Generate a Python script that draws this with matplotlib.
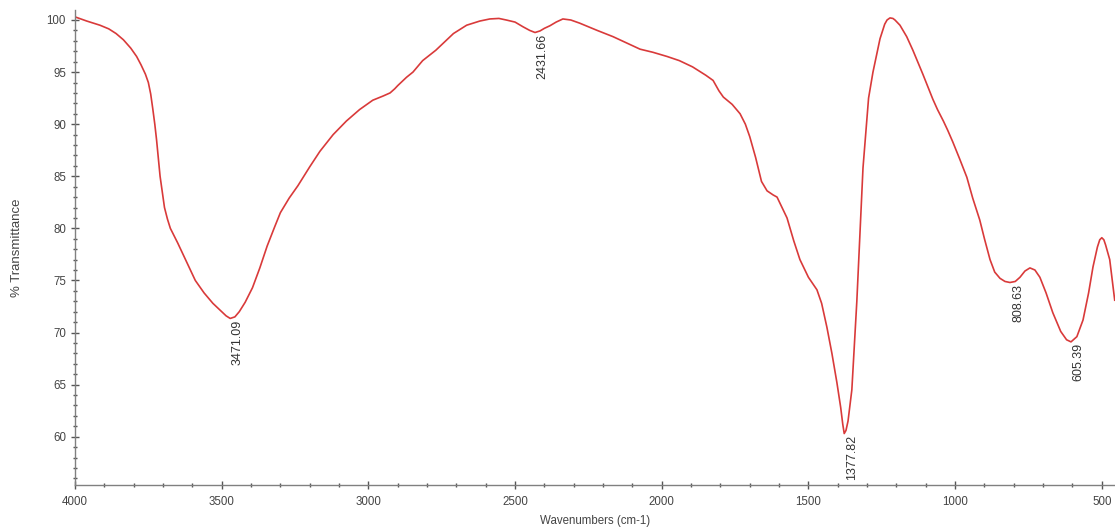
import matplotlib
matplotlib.use("Agg")
import matplotlib.pyplot as plt
from matplotlib.ticker import MultipleLocator

plt.rcParams['font.family'] = ['Liberation Sans', 'DejaVu Sans']

wavenumber = [4000, 3960, 3915, 3885, 3860, 3835, 3810, 3790, 3775, 3760, 3750, 3742,
              3735, 3728, 3722, 3716, 3710, 3702, 3695, 3685, 3675, 3650, 3620, 3590,
              3560, 3530, 3500, 3485, 3471, 3455, 3440, 3420, 3395, 3370, 3345,
              3320, 3300, 3270, 3240, 3200, 3165, 3120, 3075, 3030, 2985, 2950, 2926,
              2910, 2900, 2870, 2848, 2815, 2770, 2740, 2710, 2665, 2620, 2586, 2555, 2530,
              2500, 2473, 2450, 2432, 2415, 2400, 2381, 2360, 2337, 2310, 2280, 2220, 2166,
              2120, 2074, 2030, 1982, 1940, 1895, 1850, 1825, 1805, 1790, 1760, 1733, 1715,
              1700, 1680, 1660, 1641, 1620, 1607, 1590, 1573, 1550, 1529, 1500, 1471, 1455,
              1437, 1420, 1403, 1390, 1383, 1378, 1372, 1365, 1352, 1335, 1314, 1295, 1280,
              1256, 1240, 1232, 1222, 1212, 1205, 1188, 1165, 1144, 1110, 1090, 1076, 1060,
              1040, 1025, 1008, 985, 960, 940, 916, 900, 881, 865, 847, 830, 813, 795,
              779, 762, 745, 728, 711, 690, 667, 640, 620, 605, 585, 564, 545, 530, 515,
              507, 500, 493, 487, 473, 456]

transmittance = [100.3, 99.9, 99.5, 99.15, 98.7, 98.1, 97.3, 96.5, 95.7, 94.8, 94.0, 92.9,
                 91.5, 90.0, 88.5, 86.8, 85.0, 83.4, 82.0, 80.9, 80.0, 78.6, 76.8, 75.0,
                 73.8, 72.8, 72.0, 71.6, 71.35, 71.5, 72.0, 72.9, 74.3, 76.2, 78.3,
                 80.1, 81.5, 82.9, 84.1, 85.9, 87.4, 89.0, 90.3, 91.4, 92.3, 92.7, 93.0,
                 93.4, 93.7, 94.5, 95.0, 96.1, 97.1, 97.9, 98.7, 99.5, 99.9, 100.1, 100.15, 100.0,
                 99.8, 99.35, 99.0, 98.8, 98.95, 99.2, 99.45, 99.8, 100.1, 100.0, 99.7, 99.0, 98.4,
                 97.8, 97.2, 96.9, 96.5, 96.1, 95.5, 94.7, 94.2, 93.2, 92.6, 91.9, 91.0, 90.0,
                 88.8, 86.8, 84.5, 83.6, 83.2, 83.0, 82.0, 81.0, 78.8, 77.0, 75.3, 74.1, 72.8,
                 70.5, 68.0, 65.2, 62.8, 61.2, 60.3, 60.6, 61.5, 64.5, 73.0, 85.8, 92.5, 95.0,
                 98.2, 99.6, 100.0, 100.2, 100.15, 100.0, 99.5, 98.4, 97.1, 94.8, 93.4, 92.4, 91.4,
                 90.3, 89.4, 88.3, 86.7, 84.9, 82.9, 80.8, 79.0, 77.0, 75.8, 75.2, 74.9, 74.8, 74.9,
                 75.3, 75.9, 76.2, 76.0, 75.3, 73.8, 71.9, 70.1, 69.3, 69.1, 69.6, 71.2, 73.8, 76.3, 78.2,
                 78.9, 79.1, 78.9, 78.4, 77.0, 73.1]

peak_positions = [3471.09, 2431.66, 1377.82, 808.63, 605.39]
peak_values = [71.35, 98.8, 60.3, 74.8, 69.1]
peak_labels = ["3471.09", "2431.66", "1377.82", "808.63", "605.39"]

x_ticks = [4000, 3500, 3000, 2500, 2000, 1500, 1000, 500]
y_ticks = [60, 65, 70, 75, 80, 85, 90, 95, 100]

W, H = 1115, 529
fig = plt.figure(figsize=(W / 100, H / 100), dpi=100)
ax = fig.add_axes([75 / W, 1 - 485 / H, 1 - 75 / W, (485 - 10) / H])

ax.plot(wavenumber, transmittance, color='#d93a3a', linewidth=1.2)

ax.set_xlim(4000, 455)
ax.set_ylim(55.36, 100.96)

ax.set_xticks(x_ticks)
ax.set_yticks(y_ticks)
ax.xaxis.set_minor_locator(MultipleLocator(100))
ax.yaxis.set_minor_locator(MultipleLocator(1))

for side in ['top', 'right']:
    ax.spines[side].set_visible(False)
for side in ['left', 'bottom']:
    ax.spines[side].set_color('#808080')
    ax.spines[side].set_linewidth(1.0)

ax.tick_params(axis='both', which='major', direction='inout', length=6, width=1,
               color='#555555', labelsize=8.3, labelcolor='#444444')
ax.tick_params(axis='both', which='minor', direction='inout', length=2.5, width=1,
               color='#555555')
ax.tick_params(axis='x', which='major', pad=5)

ax.set_xlabel('Wavenumbers (cm-1)', fontsize=8.3, color='#444444', labelpad=5)
ax.set_ylabel('% Transmittance', fontsize=9.5, color='#444444', labelpad=17)

for px, py, lab in zip(peak_positions, peak_values, peak_labels):
    ax.annotate(lab, xy=(px, py), xytext=(5.5, -1), textcoords='offset points',
                rotation=90, ha='center', va='top', fontsize=9, color='#333333')

fig.savefig('out.png', dpi=100)
